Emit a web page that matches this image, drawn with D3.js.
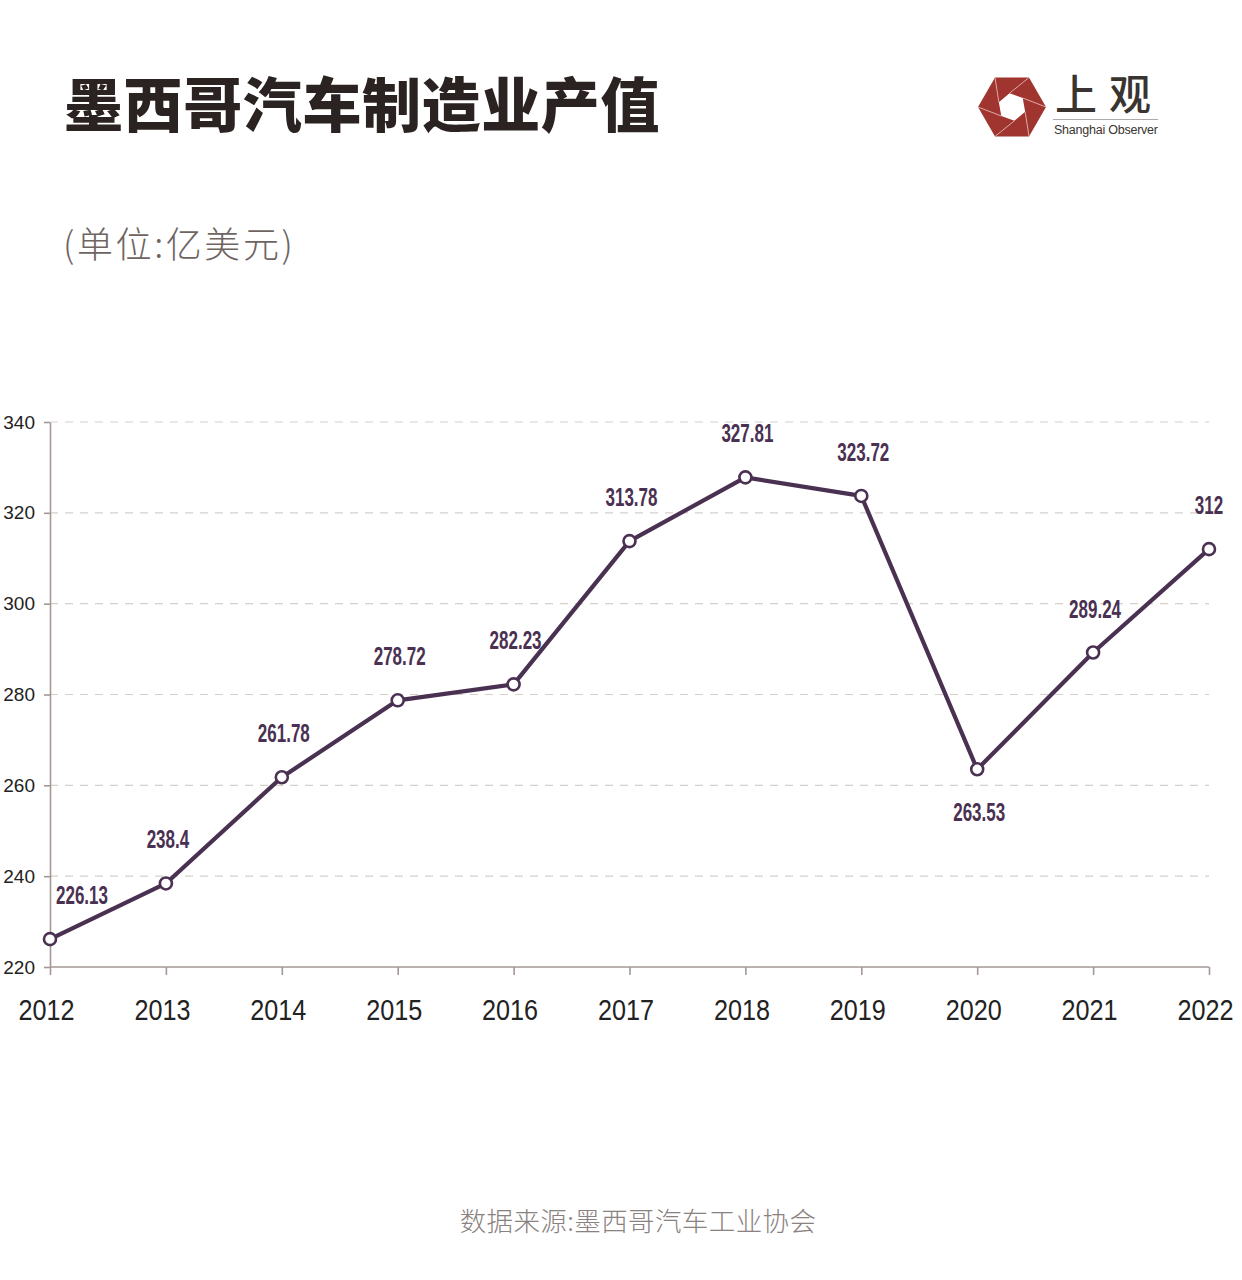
<!DOCTYPE html>
<html><head><meta charset="utf-8">
<script src="https://cdn.jsdelivr.net/npm/d3@7"></script>
<style>body{margin:0;background:#fff}svg{display:block}</style>
</head><body>
<svg id="c" width="1242" height="1280"></svg>
<script>
const years = ["2012","2013","2014","2015","2016","2017","2018","2019","2020","2021","2022"];
const values = [226.13, 238.4, 261.78, 278.72, 282.23, 313.78, 327.81, 323.72, 263.53, 289.24, 312];
const valueLabels = ["226.13","238.4","261.78","278.72","282.23","313.78","327.81","323.72","263.53","289.24","312"];
const yTicks = [220, 240, 260, 280, 300, 320, 340];

const svg = d3.select("#c");
const x = d3.scalePoint().domain(years).range([50, 1209]);
const y = d3.scaleLinear().domain([220, 340]).range([967, 422]);

// Title
svg.append("text").attr("x", 64).attr("y", 127)
  .attr("font-family", "'Noto Sans CJK SC'").attr("font-weight", 900)
  .attr("font-size", 59).attr("letter-spacing", 0.6).attr("fill", "#2b2321")
  .text("墨西哥汽车制造业产值");
svg.append("text").attr("x", 63).attr("y", 258)
  .attr("font-family", "'Noto Sans CJK SC'").attr("font-weight", 300)
  .attr("font-size", 36).attr("letter-spacing", 2.6).attr("fill", "#6e6562")
  .text("(单位:亿美元)");

// Logo
const lg = svg.append("g");
const cx = 1012, cy = 107, R = 34, r = 14;
const hex = (rad, rot) => d3.range(6).map(i => {
  const a = (i * 60 + rot) * Math.PI / 180;
  return [cx + rad * Math.cos(a), cy + rad * Math.sin(a)];
});
const outer = hex(R, 0), inner = hex(r, 20);
lg.append("path").attr("fill-rule", "evenodd").attr("fill", "#a0342f")
  .attr("d", "M" + outer.join("L") + "Z M" + inner.join("L") + "Z");
inner.forEach((p, i) => {
  lg.append("line").attr("x1", p[0]).attr("y1", p[1])
    .attr("x2", outer[(i + 1) % 6][0]).attr("y2", outer[(i + 1) % 6][1])
    .attr("stroke", "#e3b8b3").attr("stroke-width", 0.9);
});
lg.append("text").attr("x", 1055).attr("y", 110)
  .attr("font-family", "'Noto Sans CJK SC'").attr("font-weight", 500)
  .attr("font-size", 42).attr("letter-spacing", 12).attr("fill", "#3a3431")
  .text("上观");
lg.append("line").attr("x1", 1053).attr("x2", 1158).attr("y1", 119.5).attr("y2", 119.5)
  .attr("stroke", "#9a9391").attr("stroke-width", 0.8);
lg.append("text").attr("x", 1054).attr("y", 134)
  .attr("font-family", "'Liberation Sans', Arial, sans-serif")
  .attr("font-size", 12.5).attr("textLength", 104).attr("fill", "#3a3431")
  .text("Shanghai Observer");

// Grid
svg.append("g").selectAll("line").data(yTicks.filter(t => t > 220)).join("line")
  .attr("x1", 50).attr("x2", 1209)
  .attr("y1", d => y(d)).attr("y2", d => y(d))
  .attr("stroke", "#d8cfcb").attr("stroke-width", 1.2).attr("stroke-dasharray", "8,7");

// Y axis
const ya = svg.append("g").attr("transform", "translate(50,0)")
  .call(d3.axisLeft(y).tickValues(yTicks).tickSize(6).tickPadding(9).tickSizeOuter(0));
ya.select(".domain").attr("stroke", "#a39896").attr("stroke-width", 1.6);
ya.selectAll(".tick line").attr("stroke", "#a39896").attr("stroke-width", 1.6);
ya.selectAll(".tick text").attr("font-family", "'Liberation Sans', Arial, sans-serif")
  .attr("font-size", 19).attr("fill", "#222").attr("x", -15);

// X axis
const xa = svg.append("g").attr("transform", "translate(0,967)")
  .call(d3.axisBottom(x).tickSize(8).tickSizeOuter(0));
xa.select(".domain").attr("stroke", "#a39896").attr("stroke-width", 1.6)
  .attr("d", "M50,0H1209");
xa.selectAll(".tick line").attr("stroke", "#a39896").attr("stroke-width", 1.6);
xa.selectAll(".tick text")
  .attr("y", null).attr("dy", null)
  .attr("transform", "translate(-4,53) scale(0.84,1)")
  .attr("font-family", "'Liberation Sans', sans-serif")
  .attr("font-size", 30).attr("fill", "#222");

// Line
const data = years.map((yr, i) => ({yr, v: values[i], lab: valueLabels[i]}));
svg.append("path").datum(data)
  .attr("fill", "none").attr("stroke", "#4a3152").attr("stroke-width", 4.2)
  .attr("stroke-linejoin", "round")
  .attr("d", d3.line().x(d => x(d.yr)).y(d => y(d.v)));
svg.append("g").selectAll("circle").data(data).join("circle")
  .attr("cx", d => x(d.yr)).attr("cy", d => y(d.v)).attr("r", 6)
  .attr("fill", "#fff").attr("stroke", "#4a3152").attr("stroke-width", 2.6);

// Value labels
svg.append("g").selectAll("text").data(data).join("text")
  .attr("transform", (d, i) => {
    const dx = i === 0 ? 32 : (i === years.length - 1 ? 0 : 2);
    const dy = d.yr === "2020" ? 52 : -35;
    return `translate(${x(d.yr) + dx},${y(d.v) + dy}) scale(0.68,1)`;
  })
  .attr("text-anchor", "middle")
  .attr("font-family", "'Liberation Sans', sans-serif")
  .attr("font-weight", 700).attr("font-size", 25).attr("fill", "#4a3152")
  .text(d => d.lab);

// Source
svg.append("text").attr("x", 638).attr("y", 1231).attr("text-anchor", "middle")
  .attr("font-family", "'Noto Sans CJK SC'").attr("font-weight", 300)
  .attr("font-size", 26.5).attr("letter-spacing", 0.4).attr("fill", "#8a8280")
  .text("数据来源:墨西哥汽车工业协会");
</script>
</body></html>
